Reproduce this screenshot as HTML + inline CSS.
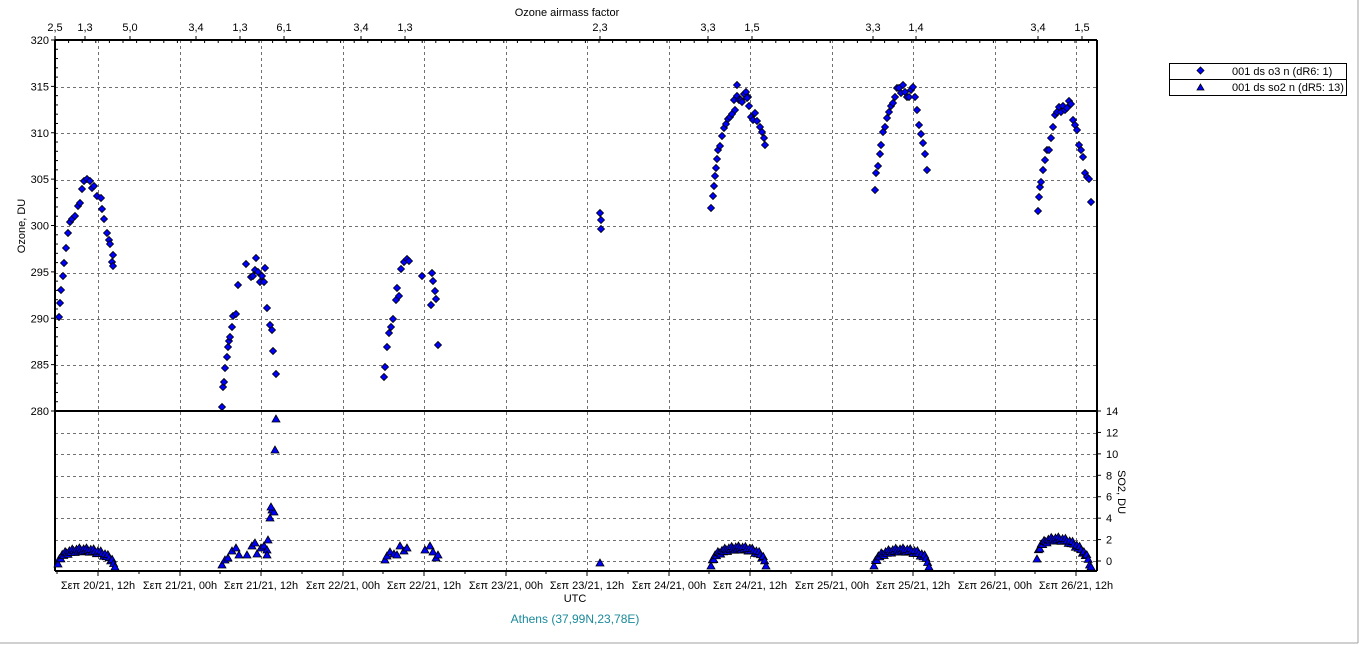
<!DOCTYPE html>
<html><head><meta charset="utf-8"><style>
body{margin:0;background:#fff;}
svg{display:block;font-family:"Liberation Sans","DejaVu Sans",sans-serif;}
</style></head><body>
<svg id="s" width="1361" height="645" xmlns="http://www.w3.org/2000/svg">
<rect width="1361" height="645" fill="#fff"/>
<line x1="1358" y1="0" x2="1358" y2="643" stroke="#a0a0a0"/>
<line x1="0" y1="643" x2="1358" y2="643" stroke="#a0a0a0"/>
<g id="grid" stroke="#707070" stroke-dasharray="3,3" stroke-width="1"></g>
<g id="ax" stroke="#000"></g>
<g id="txt" font-size="11" fill="#000"></g>
<g id="pts"></g>
<text x="567" y="16" font-size="11" text-anchor="middle">Ozone airmass factor</text>
<text x="575" y="602" font-size="11" text-anchor="middle">UTC</text>
<text x="575" y="623" font-size="12" text-anchor="middle" fill="#1a8a9a">Athens (37,99N,23,78E)</text>
<text transform="translate(25,226) rotate(-90)" font-size="11" text-anchor="middle">Ozone, DU</text>
<text transform="translate(1118,492) rotate(90)" font-size="11" text-anchor="middle">SO2, DU</text>
<rect x="1169.5" y="63.5" width="177" height="32" fill="#fff" stroke="#000"/>
<line x1="1169.5" y1="79.5" x2="1346.5" y2="79.5" stroke="#000"/>
<rect x="1198" y="68" width="5" height="5" transform="rotate(45 1200.5 70.5)" fill="#0000ff" stroke="#000" stroke-width="0.8"/>
<polygon points="1200.5,84 1197,90 1204,90" fill="#0000ff" stroke="#000" stroke-width="0.8"/>
<text x="1232" y="75" font-size="11">001 ds o3  n (dR6: 1)</text>
<text x="1232" y="91" font-size="11">001 ds so2 n (dR5: 13)</text>
</svg>
<script>
var NS="http://www.w3.org/2000/svg";
function el(p,t,a,txt){var e=document.createElementNS(NS,t);for(var k in a)e.setAttribute(k,a[k]);if(txt!==undefined)e.textContent=txt;document.getElementById(p).appendChild(e);return e;}
var L=55,R=1097,T=40,B=571,M=411;
var oy=[87,133,180,226,273,319,365];
oy.forEach(function(y){el("grid","line",{x1:L,y1:y+.5,x2:R,y2:y+.5});});
var sy=[433,454,476,497,518,540,561];
sy.forEach(function(y){el("grid","line",{x1:L,y1:y+.5,x2:R,y2:y+.5});});
var xs=[];for(var k=0;k<13;k++)xs.push(Math.round(98+81.5*k));
xs.forEach(function(x){el("grid","line",{x1:x+.5,y1:T,x2:x+.5,y2:B});});
el("ax","line",{x1:L,y1:T,x2:L,y2:B,"stroke-width":2});
el("ax","line",{x1:L,y1:T,x2:R,y2:T,"stroke-width":2});
el("ax","line",{x1:R,y1:T,x2:R,y2:B,"stroke-width":2});
el("ax","line",{x1:L,y1:B,x2:R,y2:B,"stroke-width":2});
el("ax","line",{x1:L,y1:M,x2:R,y2:M,"stroke-width":2});
var vals=[320,315,310,305,300,295,290,285,280];
vals.forEach(function(v,i){var y=40+i*46.375;el("ax","line",{x1:L-4,y1:y,x2:L,y2:y});el("txt","text",{x:L-6,y:y+4,"text-anchor":"end"},v);
 if(i<8)for(var m=1;m<5;m++){var yy=y+m*9.275;el("ax","line",{x1:L,y1:yy,x2:L+3,y2:yy});}});
var sv=[14,12,10,8,6,4,2,0];
sv.forEach(function(v,i){var y=411+i*21.43;el("ax","line",{x1:R,y1:y,x2:R+4,y2:y});el("txt","text",{x:R+9,y:y+4},v);});
var labs=["Σεπ 20/21, 12h","Σεπ 21/21, 00h","Σεπ 21/21, 12h","Σεπ 22/21, 00h","Σεπ 22/21, 12h","Σεπ 23/21, 00h","Σεπ 23/21, 12h","Σεπ 24/21, 00h","Σεπ 24/21, 12h","Σεπ 25/21, 00h","Σεπ 25/21, 12h","Σεπ 26/21, 00h","Σεπ 26/21, 12h"];
xs.forEach(function(x,i){el("ax","line",{x1:x,y1:B,x2:x,y2:B+5});el("ax","line",{x1:x-41,y1:B,x2:x-41,y2:B+3});
 el("txt","text",{x:x,y:589,"text-anchor":"middle"},labs[i]);});
var tl=[[55,"2,5"],[85,"1,3"],[130,"5,0"],[196,"3,4"],[240,"1,3"],[284,"6,1"],[361,"3,4"],[405,"1,3"],[600,"2,3"],[708,"3,3"],[752,"1,5"],[873,"3,3"],[916,"1,4"],[1038,"3,4"],[1082,"1,5"]];
tl.forEach(function(t){el("txt","text",{x:t[0],y:31,"text-anchor":"middle"},t[1]);el("ax","line",{x1:t[0],y1:T-4,x2:t[0],y2:T});});
for(var x=L;x<R;x+=13.6)el("ax","line",{x1:x,y1:T,x2:x,y2:T+3});
var O=[[59,317],[60,303],[61,290],[63,276],[64,263],[66,248],[68,233],[70,222],[72,219],[75,216],[78,206],[80,203],[82,189],[84,181],[87,179],[90,181],[92,188],[94,186],[97,196],[101,198],[102,209],[104,219],[107,233],[109,240],[110,244],[113,255],[112,262],[113,266],
[222,407],[223,387],[224,382],[225,368],[227,357],[228,347],[229,341],[230,337],[232,327],[233,316],[236,314],[238,285],[246,264],[251,277],[253,276],[255,270],[256,258],[258,272],[260,282],[262,276],[264,282],[265,268],[267,308],[270,325],[272,330],[273,351],[276,374],
[384,377],[385,367],[387,347],[389,333],[391,327],[393,319],[396,300],[397,288],[399,296],[401,269],[404,262],[407,259],[409,261],[422,276],[432,273],[433,281],[435,291],[436,299],[431,305],[438,345],
[600,213],[601,220],[601,229],
[711,208],[713,196],[714,186],[715,176],[716,168],[717,159],[718,150],[720,146],[722,136],[724,128],[726,124],[728,119],[730,117],[732,114],[734,100],[735,110],[737,96],[739,100],[741,100],[742,102],[737,85],[744,94],[746,92],[748,97],[749,106],[751,117],[753,120],[755,113],[757,121],[760,127],[762,132],[764,138],[765,145],[747,98],
[875,190],[876,173],[878,166],[880,154],[881,145],[883,132],[885,127],[887,118],[889,112],[891,106],[893,103],[895,97],[897,88],[899,88],[901,93],[903,85],[905,92],[907,97],[909,97],[911,90],[913,87],[915,97],[917,110],[919,125],[921,134],[923,143],[925,154],[927,170],
[1038,211],[1039,197],[1040,187],[1041,182],[1043,170],[1045,160],[1047,150],[1049,150],[1051,138],[1053,127],[1055,115],[1057,112],[1059,107],[1061,112],[1063,106],[1065,110],[1067,108],[1069,101],[1071,104],[1073,120],[1075,125],[1077,130],[1079,145],[1081,150],[1083,157],[1085,173],[1087,177],[1089,179],[1091,202]];
O.forEach(function(p){el("pts","rect",{x:p[0]-2.5,y:p[1]-2.5,width:5,height:5,transform:"rotate(45 "+p[0]+" "+p[1]+")",fill:"#0000ff",stroke:"#000","stroke-width":0.8});});
var S=[];
function arc(x0,x1,ybase,ytop,n,skew){for(var i=0;i<=n;i++){var t=i/n;var x=x0+(x1-x0)*t;var r=Math.pow(Math.sin(Math.PI*t),0.35);var y=ybase-(ybase-ytop)*r+(skew?skew*(t-0.5):0)+((i*7)%5-2);if(y>567)y=567;S.push([x,y]);}}
arc(58,115,568,550,40,4);
arc(711,766,568,548,40,0);
arc(874,929,568,550,38,0);
arc(1037,1091,568,540,38,14);
S=S.concat([[222,565],[225,560],[228,558],[232,551],[236,548],[239,555],[247,555],[252,546],[255,543],[257,554],[261,548],[264,546],[267,550],[268,540],[270,518],[272,510],[274,512],[271,507],[275,450],[276,419],[267,555],
[385,560],[387,556],[390,552],[394,554],[397,555],[400,546],[404,551],[407,548],[425,550],[430,546],[433,552],[436,558],[438,555],[600,563]]);
S.forEach(function(p){var x=p[0],y=p[1];el("pts","polygon",{points:(x)+","+(y-4)+" "+(x-4)+","+(y+3)+" "+(x+4)+","+(y+3),fill:"#0000ff",stroke:"#000","stroke-width":0.8});});
</script>
</body></html>
